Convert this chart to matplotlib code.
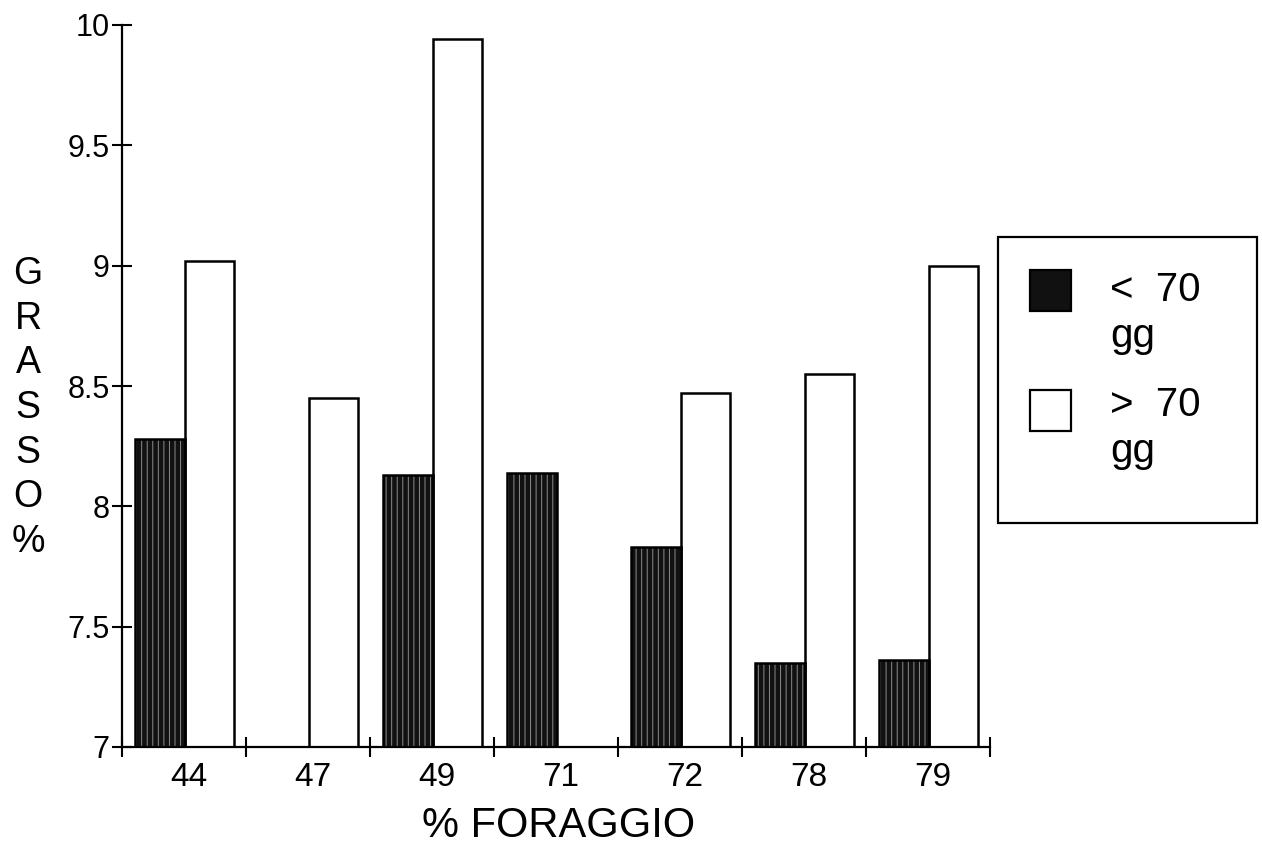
import matplotlib
matplotlib.use("Agg")
import matplotlib.pyplot as plt
import matplotlib.transforms as mtransforms
import numpy as np
from matplotlib.patches import Rectangle

plt.rcParams['font.family'] = ['Liberation Sans', 'DejaVu Sans']
plt.rcParams['hatch.linewidth'] = 0.7

# Forage share (%) categories and fat content (%) by lactation stage
categories = ["44", "47", "49", "71", "72", "78", "79"]
fat_under_70 = [8.28, np.nan, 8.13, 8.14, 7.83, 7.35, 7.36]
fat_over_70 = [9.02, 8.45, 9.94, np.nan, 8.47, 8.55, 9.00]
series_labels = ["<  70\ngg", ">  70\ngg"]
y_ticks = [7, 7.5, 8, 8.5, 9, 9.5, 10]
y_tick_labels = ["7", "7.5", "8", "8.5", "9", "9.5", "10"]

W, H = 1262, 852
fig = plt.figure(figsize=(W / 100, H / 100), dpi=100)
ax = fig.add_axes([122 / W, 1 - 747 / H, (990 - 122) / W, (747 - 25) / H])

x = np.arange(len(categories))
width = 0.4
base = 7.0

dark_style = dict(color="#111111", edgecolor="#8c8c8c", hatch="|||", linewidth=0)
white_style = dict(color="white", edgecolor="black", linewidth=1.8)

under = np.array(fat_under_70) - base
over = np.array(fat_over_70) - base

ax.bar(x - 0.195, under, width, bottom=base, zorder=2, **dark_style)
ax.bar(x - 0.195, under, width, bottom=base, fill=False, edgecolor="black",
       linewidth=1.8, zorder=3)
ax.bar(x + 0.205, over, width, bottom=base, zorder=2, **white_style)

ax.set_xlim(-0.5, len(categories) - 0.5)
ax.set_ylim(7, 10)

for side in ("top", "right"):
    ax.spines[side].set_visible(False)
for side in ("left", "bottom"):
    ax.spines[side].set_linewidth(1.6)

ax.set_yticks(y_ticks)
ax.set_yticklabels(y_tick_labels, fontsize=22)
ax.tick_params(axis="y", direction="inout", length=14, width=1.5, pad=2)

ax.set_xticks(x)
ax.set_xticklabels(categories, fontsize=24)
ax.set_xticks(np.arange(-0.5, len(categories)), minor=True)
ax.tick_params(axis="x", which="major", length=0, pad=11)
ax.tick_params(axis="x", which="minor", direction="inout", length=15, width=1.5)
shift = mtransforms.ScaledTranslation(5 / 100, 0, fig.dpi_scale_trans)
for lbl in ax.get_xticklabels():
    lbl.set_transform(lbl.get_transform() + shift)

ax.set_xlabel("% FORAGGIO", fontsize=30, va="center")
ax.xaxis.set_label_coords(0.503, (747 - 826) / (747 - 25))
ax.set_ylabel("\n".join("GRASSO%"), fontsize=27, rotation=0,
              ha="center", va="center", linespacing=1.31)
ax.yaxis.set_label_coords((28 - 122) / (990 - 122), (747 - 408) / (747 - 25))

# Legend drawn in figure pixels
def fx(px):
    return px / W

def fy(py):
    return 1 - py / H

fig.patches.append(Rectangle((fx(998), fy(523)), fx(1257) - fx(998), fy(237) - fy(523),
                             transform=fig.transFigure, fill=False,
                             edgecolor="black", linewidth=1.6))
sw = 41
for top, style, label, baseline in [(270, "dark", series_labels[0], 347),
                                     (390, "white", series_labels[1], 462)]:
    rect = (fx(1030), fy(top + sw)), fx(1030 + sw) - fx(1030), fy(top) - fy(top + sw)
    if style == "dark":
        fig.patches.append(Rectangle(*rect, transform=fig.transFigure, **dark_style))
        fig.patches.append(Rectangle(*rect, transform=fig.transFigure, fill=False,
                                     edgecolor="black", linewidth=1.6))
    else:
        fig.patches.append(Rectangle(*rect, transform=fig.transFigure, facecolor="white",
                                     edgecolor="black", linewidth=1.6))
    fig.text(fx(1110), fy(baseline), label, fontsize=29, ha="left", va="baseline",
             linespacing=1.27)

fig.savefig("out.png", dpi=100, facecolor="white")
